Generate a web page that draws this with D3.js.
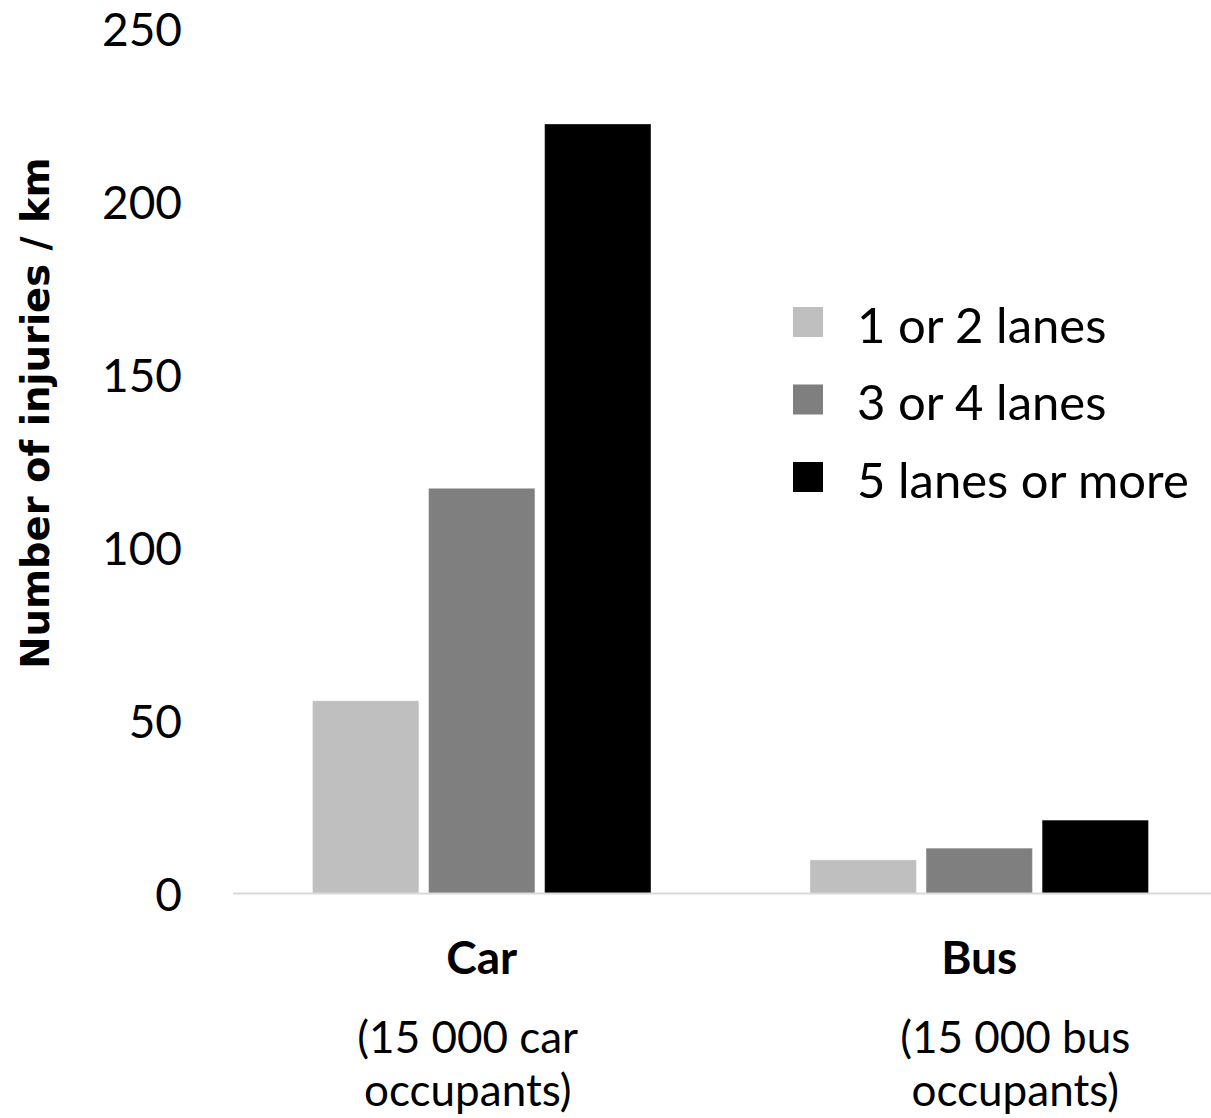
<!DOCTYPE html>
<html>
<head>
<meta charset="utf-8">
<script src="https://cdn.jsdelivr.net/npm/d3@7"></script>
<style>
  html, body { margin: 0; padding: 0; background: #fff; }
  svg { display: block; }
  text { font-family: Lato, "Open Sans", sans-serif; fill: #000; }
</style>
</head>
<body>
<svg id="chart" width="1211" height="1118"></svg>
<script>
// Injuries per km by number of lanes, for car and bus occupants
const categories = ["Car", "Bus"];
const categoryNotes = [["(15 000 car", "occupants)"], ["(15 000 bus", "occupants)"]];
const series = ["1 or 2 lanes", "3 or 4 lanes", "5 lanes or more"];
const carValues = [55.7, 117.1, 222.4];
const busValues = [9.7, 13.1, 21.2];
const yTicks = [0, 50, 100, 150, 200, 250];
const colors = ["#bfbfbf", "#7f7f7f", "#000000"];

const values = [carValues, busValues];

const svg = d3.select("#chart");

const x = d3.scaleBand().domain(categories).range([233, 1228]).paddingInner(0).paddingOuter(0);
const groupWidth = 338.4;
const xInner = d3.scaleBand().domain(series).range([-groupWidth / 2, groupWidth / 2]).paddingInner(0.084).paddingOuter(0);
const y = d3.scaleLinear().domain([0, 250]).range([893.5, 28.5]);

// Y axis labels (no axis line, no gridlines)
const yAxis = d3.axisLeft(y).tickValues(yTicks).tickSize(0).tickPadding(0);
const gy = svg.append("g").attr("transform", "translate(182,0)").call(yAxis);
gy.select(".domain").remove();
gy.selectAll("text")
  .attr("font-family", "Lato, sans-serif")
  .attr("font-size", 46)
  .attr("fill", "#000")
  .attr("dy", "0.36em");

// Bars
const groups = svg.append("g").selectAll("g")
  .data(categories)
  .join("g")
  .attr("transform", d => `translate(${x(d) + x.bandwidth() / 2},0)`);

groups.selectAll("rect")
  .data((d, i) => values[i].map((v, j) => ({ s: series[j], v, c: colors[j] })))
  .join("rect")
  .attr("x", d => xInner(d.s))
  .attr("width", xInner.bandwidth())
  .attr("y", d => y(d.v))
  .attr("height", d => y(0) - y(d.v))
  .attr("fill", d => d.c)
  .attr("stroke", "#ffffff")
  .attr("stroke-opacity", 0.3)
  .attr("stroke-width", 1);

// Category axis line
svg.append("line")
  .attr("x1", 233).attr("x2", 1211)
  .attr("y1", y(0)).attr("y2", y(0))
  .attr("stroke", "#d9d9d9")
  .attr("stroke-width", 1.8);

// Category labels
groups.append("text")
  .attr("text-anchor", "middle")
  .attr("y", 957)
  .attr("dy", "0.36em")
  .attr("font-size", 46)
  .attr("font-weight", "bold")
  .text(d => d);

const noteOffsets = [-14, 36];
groups.each(function (d, i) {
  const g = d3.select(this);
  categoryNotes[i].forEach((line, k) => {
    g.append("text")
      .attr("text-anchor", "middle")
      .attr("x", noteOffsets[i])
      .attr("y", 1037 + k * 53)
      .attr("dy", "0.36em")
      .attr("font-size", 44)
      .text(line);
  });
});

// Y axis title
svg.append("text")
  .attr("transform", "translate(35,413) rotate(-90)")
  .attr("text-anchor", "middle")
  .attr("dy", "0.36em")
  .style("font-family", "'DejaVu Sans', sans-serif")
  .attr("font-size", 38.5)
  .attr("font-weight", "bold")
  .text("Number of injuries / km");

// Legend
const legend = svg.append("g").attr("transform", "translate(793,307)");
const items = legend.selectAll("g")
  .data(series)
  .join("g")
  .attr("transform", (d, i) => `translate(0,${i * 77.5})`);
items.append("rect")
  .attr("width", 30).attr("height", 30)
  .attr("fill", (d, i) => colors[i]);
items.append("text")
  .attr("x", 64)
  .attr("y", 18)
  .attr("dy", "0.36em")
  .attr("font-size", 49)
  .text(d => d);
</script>
</body>
</html>
